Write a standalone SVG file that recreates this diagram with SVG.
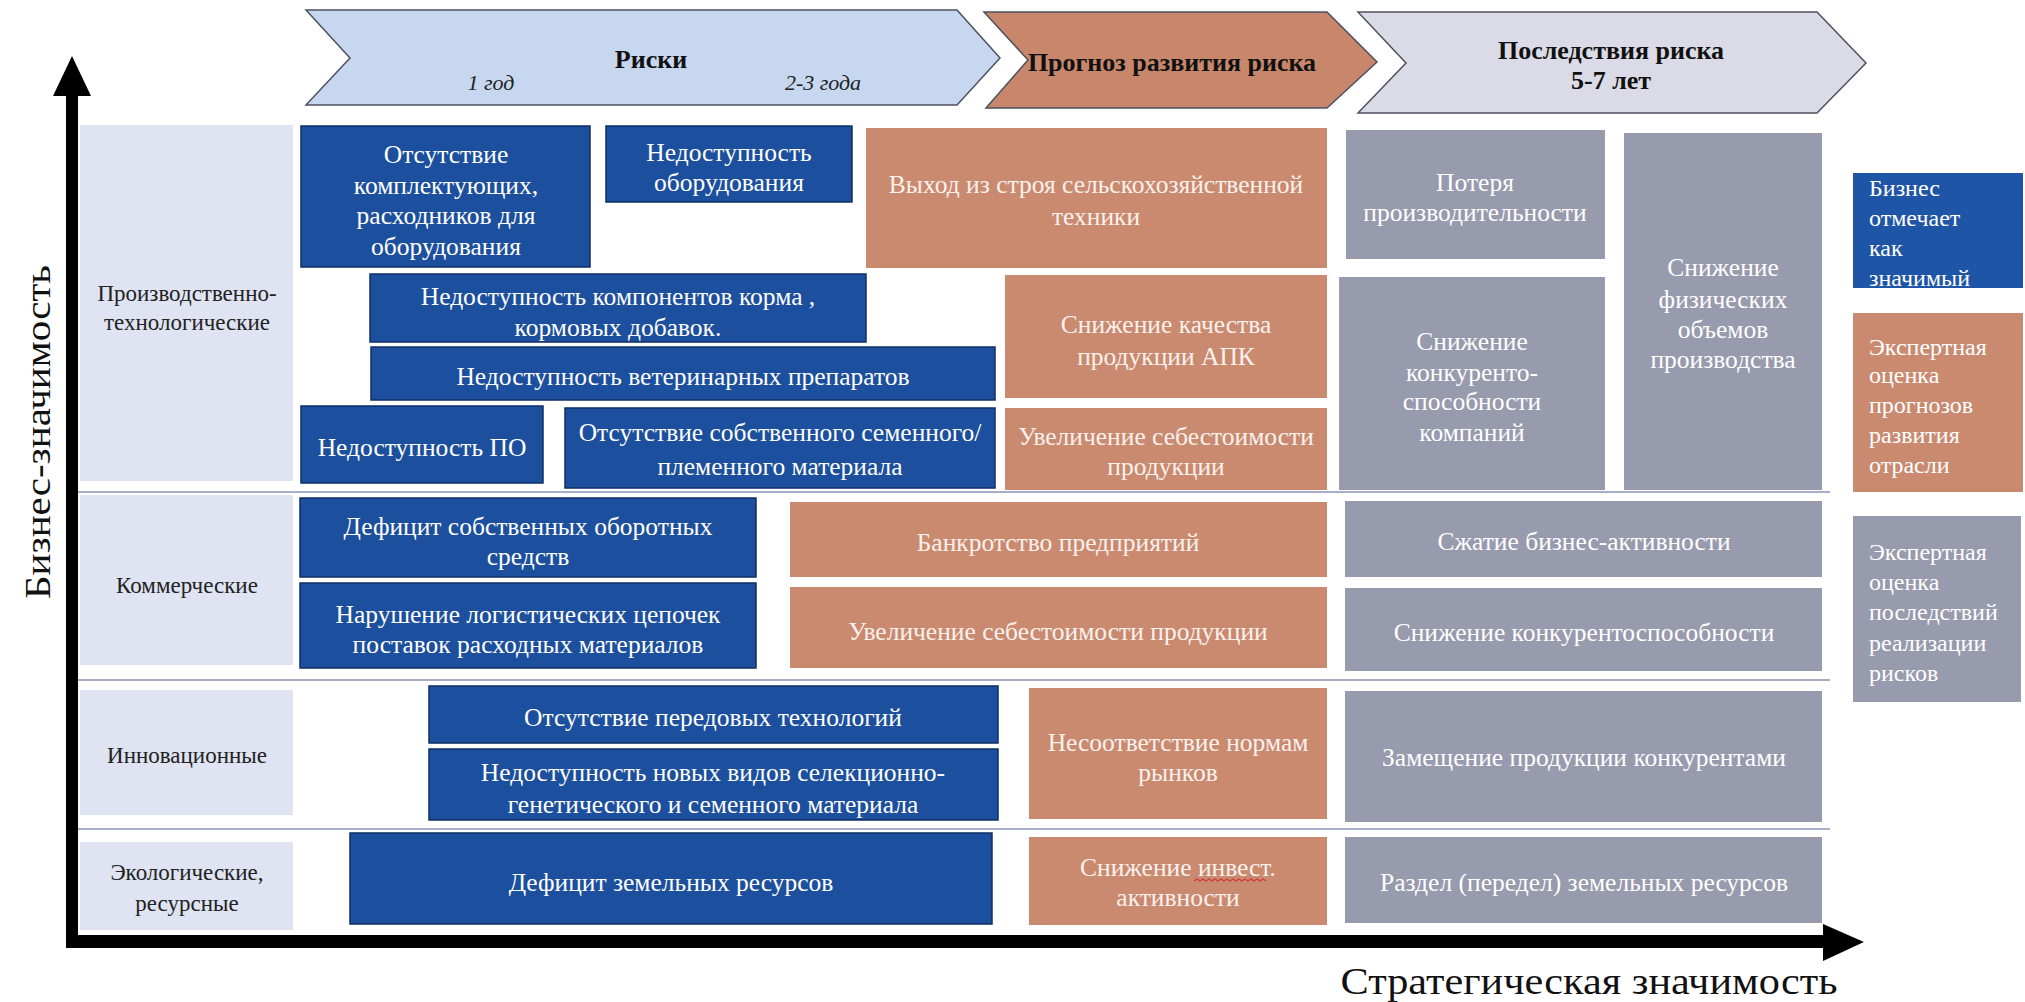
<svg xmlns="http://www.w3.org/2000/svg" width="2025" height="1002" viewBox="0 0 2025 1002">
<style>
text{font-family:"Liberation Serif","DejaVu Serif",serif;}
.bt{fill:#ffffff;font-size:25.5px;text-anchor:middle;}
.st{fill:#fbf1ec;font-size:25.5px;text-anchor:middle;}
.gt{fill:#ffffff;font-size:25.5px;text-anchor:middle;}
.lt{fill:#ffffff;font-size:24px;}
.rl{fill:#222222;font-size:23px;text-anchor:middle;}
.hd{fill:#111111;font-size:26px;font-weight:bold;text-anchor:middle;}
.it{fill:#222222;font-size:22px;font-style:italic;text-anchor:middle;}
.blue{fill:#1c4f9d;stroke:#0e2f66;stroke-width:1.5;}
.salmon{fill:#c98a70;}
.gray{fill:#989aad;}
.cat{fill:#dfe3f2;}
.sep{stroke:#a6aec8;stroke-width:2;}
.chev{stroke:#4d5260;stroke-width:1.5;}
</style>

<g id="header">
  <g id="chevron-risks">
    <polygon class="chev" fill="#c7d7f0" points="306,10 957,10 1000,58 957,105 306,105 350,58"/>
    <text class="hd" x="651" y="68">Риски</text>
    <text class="it" x="491" y="90">1 год</text>
    <text class="it" x="823" y="90">2-3 года</text>
  </g>
  <g id="chevron-forecast">
    <polygon class="chev" fill="#c8876b" points="984,12 1327,12 1377,62 1327,108 986,108 1028,60"/>
    <text class="hd" x="1172" y="71">Прогноз развития риска</text>
  </g>
  <g id="chevron-consequences">
    <polygon class="chev" fill="#dadbe6" points="1358,12 1817,12 1866,63 1817,113 1358,113 1406,63"/>
    <text class="hd" x="1611" y="59">Последствия риска</text>
    <text class="hd" x="1611" y="89">5-7 лет</text>
  </g>
</g>

<g id="categories">
  <g id="cat-production">
    <rect class="cat" x="80" y="125" width="213" height="356"/>
    <text class="rl" x="187" y="301">Производственно-</text>
    <text class="rl" x="187" y="330">технологические</text>
  </g>
  <g id="cat-commercial">
    <rect class="cat" x="80" y="495" width="213" height="170"/>
    <text class="rl" x="187" y="593">Коммерческие</text>
  </g>
  <g id="cat-innovation">
    <rect class="cat" x="80" y="690" width="213" height="125"/>
    <text class="rl" x="187" y="763">Инновационные</text>
  </g>
  <g id="cat-ecology">
    <rect class="cat" x="80" y="842" width="213" height="88"/>
    <text class="rl" x="187" y="880">Экологические,</text>
    <text class="rl" x="187" y="911">ресурсные</text>
  </g>
</g>

<g id="separators">
  <line class="sep" x1="78" y1="492" x2="1830" y2="492"/>
  <line class="sep" x1="78" y1="680" x2="1830" y2="680"/>
  <line class="sep" x1="78" y1="829" x2="1830" y2="829"/>
</g>

<g id="risks">
  <g id="b1"><rect class="blue" x="301" y="126" width="289" height="141"/>
    <text class="bt" x="446" y="163">Отсутствие</text>
    <text class="bt" x="446" y="194">комплектующих,</text>
    <text class="bt" x="446" y="224">расходников для</text>
    <text class="bt" x="446" y="255">оборудования</text></g>
  <g id="b2"><rect class="blue" x="606" y="126" width="246" height="76"/>
    <text class="bt" x="729" y="161">Недоступность</text>
    <text class="bt" x="729" y="191">оборудования</text></g>
  <g id="b3"><rect class="blue" x="370" y="274" width="496" height="68"/>
    <text class="bt" x="618" y="305">Недоступность компонентов корма ,</text>
    <text class="bt" x="618" y="336">кормовых добавок.</text></g>
  <g id="b4"><rect class="blue" x="371" y="347" width="624" height="53"/>
    <text class="bt" x="683" y="385">Недоступность ветеринарных препаратов</text></g>
  <g id="b5"><rect class="blue" x="301" y="406" width="242" height="77"/>
    <text class="bt" x="422" y="456">Недоступность ПО</text></g>
  <g id="b6"><rect class="blue" x="565" y="408" width="430" height="80"/>
    <text class="bt" x="780" y="441">Отсутствие собственного семенного/</text>
    <text class="bt" x="780" y="475">племенного материала</text></g>
  <g id="b7"><rect class="blue" x="300" y="498" width="456" height="79"/>
    <text class="bt" x="528" y="535">Дефицит собственных оборотных</text>
    <text class="bt" x="528" y="565">средств</text></g>
  <g id="b8"><rect class="blue" x="300" y="583" width="456" height="85"/>
    <text class="bt" x="528" y="623">Нарушение логистических цепочек</text>
    <text class="bt" x="528" y="653">поставок расходных материалов</text></g>
  <g id="b9"><rect class="blue" x="429" y="686" width="569" height="57"/>
    <text class="bt" x="713" y="726">Отсутствие передовых технологий</text></g>
  <g id="b10"><rect class="blue" x="429" y="749" width="569" height="71"/>
    <text class="bt" x="713" y="781">Недоступность новых видов селекционно-</text>
    <text class="bt" x="713" y="813">генетического и семенного материала</text></g>
  <g id="b11"><rect class="blue" x="350" y="833" width="642" height="91"/>
    <text class="bt" x="671" y="891">Дефицит земельных ресурсов</text></g>
</g>

<g id="forecast">
  <g id="s1"><rect class="salmon" x="866" y="128" width="461" height="140"/>
    <text class="st" x="1096" y="193">Выход из строя сельскохозяйственной</text>
    <text class="st" x="1096" y="225">техники</text></g>
  <g id="s2"><rect class="salmon" x="1005" y="275" width="322" height="123"/>
    <text class="st" x="1166" y="333">Снижение качества</text>
    <text class="st" x="1166" y="365">продукции АПК</text></g>
  <g id="s3"><rect class="salmon" x="1005" y="408" width="322" height="82"/>
    <text class="st" x="1166" y="445">Увеличение себестоимости</text>
    <text class="st" x="1166" y="475">продукции</text></g>
  <g id="s4"><rect class="salmon" x="790" y="502" width="537" height="75"/>
    <text class="st" x="1058" y="551">Банкротство предприятий</text></g>
  <g id="s5"><rect class="salmon" x="790" y="587" width="537" height="81"/>
    <text class="st" x="1058" y="640">Увеличение себестоимости продукции</text></g>
  <g id="s6"><rect class="salmon" x="1029" y="688" width="298" height="131"/>
    <text class="st" x="1178" y="751">Несоответствие нормам</text>
    <text class="st" x="1178" y="781">рынков</text></g>
  <g id="s7"><rect class="salmon" x="1029" y="837" width="298" height="88"/>
    <text class="st" x="1178" y="876">Снижение инвест.</text>
    <text class="st" x="1178" y="906">активности</text>
    <path d="M1194,881 l3,-2 l3,2 l3,-2 l3,2 l3,-2 l3,2 l3,-2 l3,2 l3,-2 l3,2 l3,-2 l3,2 l3,-2 l3,2 l3,-2 l3,2 l3,-2 l3,2 l3,-2 l3,2 l3,-2 l3,2 l3,-2 l3,2" fill="none" stroke="#d23a3a" stroke-width="1.2"/></g>
</g>

<g id="consequences">
  <g id="g1"><rect class="gray" x="1346" y="130" width="259" height="129"/>
    <text class="gt" x="1475" y="191">Потеря</text>
    <text class="gt" x="1475" y="221">производительности</text></g>
  <g id="g2"><rect class="gray" x="1339" y="277" width="266" height="213"/>
    <text class="gt" x="1472" y="350">Снижение</text>
    <text class="gt" x="1472" y="381">конкуренто-</text>
    <text class="gt" x="1472" y="410">способности</text>
    <text class="gt" x="1472" y="441">компаний</text></g>
  <g id="g3"><rect class="gray" x="1624" y="133" width="198" height="357"/>
    <text class="gt" x="1723" y="276">Снижение</text>
    <text class="gt" x="1723" y="308">физических</text>
    <text class="gt" x="1723" y="338">объемов</text>
    <text class="gt" x="1723" y="368">производства</text></g>
  <g id="g4"><rect class="gray" x="1345" y="501" width="477" height="76"/>
    <text class="gt" x="1584" y="550">Сжатие бизнес-активности</text></g>
  <g id="g5"><rect class="gray" x="1345" y="588" width="477" height="83"/>
    <text class="gt" x="1584" y="641">Снижение конкурентоспособности</text></g>
  <g id="g6"><rect class="gray" x="1345" y="691" width="477" height="131"/>
    <text class="gt" x="1584" y="766">Замещение продукции конкурентами</text></g>
  <g id="g7"><rect class="gray" x="1345" y="837" width="477" height="86"/>
    <text class="gt" x="1584" y="891">Раздел (передел) земельных ресурсов</text></g>
</g>

<g id="legend">
  <g id="legend-business"><rect x="1853" y="173" width="170" height="115" fill="#1f55a6"/>
    <text class="lt" x="1869" y="196">Бизнес</text>
    <text class="lt" x="1869" y="226">отмечает</text>
    <text class="lt" x="1869" y="256">как</text>
    <text class="lt" x="1869" y="286">значимый</text></g>
  <g id="legend-forecast"><rect class="salmon" x="1853" y="313" width="170" height="179"/>
    <text class="lt" x="1869" y="355">Экспертная</text>
    <text class="lt" x="1869" y="383">оценка</text>
    <text class="lt" x="1869" y="413">прогнозов</text>
    <text class="lt" x="1869" y="443">развития</text>
    <text class="lt" x="1869" y="473">отрасли</text></g>
  <g id="legend-consequences"><rect class="gray" x="1853" y="516" width="168" height="186"/>
    <text class="lt" x="1869" y="560">Экспертная</text>
    <text class="lt" x="1869" y="590">оценка</text>
    <text class="lt" x="1869" y="620">последствий</text>
    <text class="lt" x="1869" y="651">реализации</text>
    <text class="lt" x="1869" y="681">рисков</text></g>
</g>

<g id="axes">
  <rect x="66" y="90" width="12" height="858" fill="#000"/>
  <polygon points="72,56 53,96 91,96" fill="#000"/>
  <rect x="66" y="935" width="1762" height="13" fill="#000"/>
  <polygon points="1823,924 1864,942 1823,961" fill="#000"/>
  <text x="0" y="0" transform="translate(50,432) rotate(-90)" font-size="36" fill="#111" text-anchor="middle" textLength="334" lengthAdjust="spacingAndGlyphs">Бизнес-значимость</text>
  <text x="1589" y="994" font-size="38" fill="#111" text-anchor="middle" textLength="497" lengthAdjust="spacingAndGlyphs">Стратегическая значимость</text>
</g>
</svg>
